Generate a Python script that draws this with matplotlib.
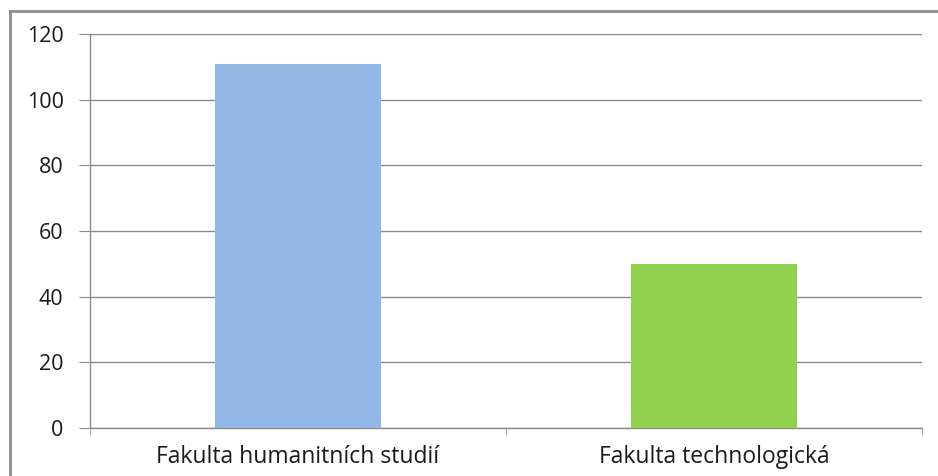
import matplotlib
matplotlib.use("Agg")
import matplotlib.pyplot as plt
from matplotlib.lines import Line2D

categories = ["Fakulta humanitních studií", "Fakulta technologická"]
values = [111, 50]
colors = ["#93B7E5", "#92D050"]
yticks = [0, 20, 40, 60, 80, 100, 120]

plt.rcParams['font.family'] = ['Open Sans', 'DejaVu Sans']

fig = plt.figure(figsize=(9.38, 4.76), dpi=100)
ax = fig.add_axes([90/938, 1-428/476, (922-90)/938, (428-34)/476])

x = list(range(len(categories)))
ax.bar(x, values, width=0.4, color=colors, zorder=3)
ax.set_xlim(-0.5, len(categories) - 0.5)
ax.set_ylim(0, 120)
ax.set_yticks(yticks)
ax.set_yticklabels([str(t) for t in yticks], fontsize=15.5, color="#1a1a1a")
ax.yaxis.grid(True, color="#8a8a8a", linewidth=1, zorder=0)

ax.set_xticks(x)
ax.set_xticklabels(categories, fontsize=16.5, color="#1a1a1a")
ax.set_xticks([-0.5, 0.5, 1.5], minor=True)
ax.tick_params(axis='x', which='major', length=0, pad=12)
ax.tick_params(axis='x', which='minor', length=5, color="#8a8a8a", direction='out')
ax.tick_params(axis='y', length=8, color="#8a8a8a", direction='out', pad=11)

for s in ['top', 'right']:
    ax.spines[s].set_visible(False)
for s in ['left', 'bottom']:
    ax.spines[s].set_color("#8a8a8a")
    ax.spines[s].set_linewidth(1)

# outer chart border (left and top edges visible)
bx = 9.5/938
by = 1 - 10.5/476
fig.add_artist(Line2D([bx, 1.01], [by, by], transform=fig.transFigure, color="#8c8c8c", linewidth=2))
fig.add_artist(Line2D([bx, bx], [-0.01, by], transform=fig.transFigure, color="#8c8c8c", linewidth=2))

fig.savefig("out.png", dpi=100)
